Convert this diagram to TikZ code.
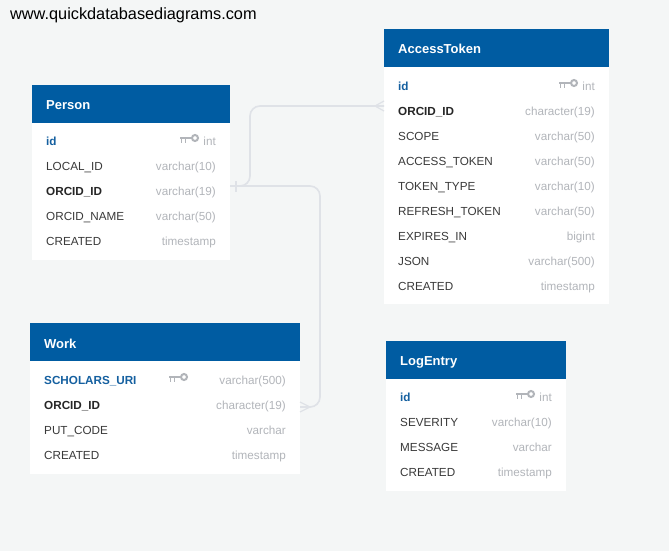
\documentclass[tikz,border=0pt]{standalone}
\usepackage{fontspec}
\setmainfont{Liberation Sans}
\usepackage{xcolor}
\definecolor{pagebg}{HTML}{F4F6F6}
\definecolor{headblue}{HTML}{005CA2}
\definecolor{keyblue}{HTML}{1560A0}
\definecolor{typegray}{HTML}{B2B5BA}
\definecolor{rowdark}{HTML}{3A3A3A}
\definecolor{linkgray}{HTML}{DFE2E7}
\tikzset{
  tablebody/.style={fill=white,draw=none,anchor=north west,inner sep=0pt,outer sep=0pt},
  tablehead/.style={fill=headblue,draw=none,anchor=north west,inner sep=0pt,outer sep=0pt,minimum height=38pt},
  headtext/.style={anchor=base west,inner sep=0pt,text=white,font=\fontsize{13}{13}\selectfont\bfseries},
  rowtext/.style={anchor=base west,inner sep=0pt,text=rowdark,font=\fontsize{11.7}{12}\selectfont},
  fktext/.style={rowtext,text=black!85,font=\fontsize{11.7}{12}\selectfont\bfseries},
  pktext/.style={rowtext,text=keyblue,font=\fontsize{11.7}{12}\selectfont\bfseries},
  typetext/.style={anchor=base east,inner sep=0pt,text=typegray,font=\fontsize{11.7}{12}\selectfont},
  link/.style={draw=linkgray,line width=1.6pt,rounded corners=10pt},
  foot/.style={draw=linkgray,line width=1.2pt},
  keyicon/.pic={
    \draw[typegray,line width=2pt] (2,-1) circle (3);
    \draw[typegray,line width=2pt] (-1,-1)--(-13,-1);
    \draw[typegray,line width=1.6pt] (-11.5,-1)--(-11.5,3.5) (-7.5,-1)--(-7.5,3.5);
  },
}
\begin{document}
\begin{tikzpicture}[x=1pt,y=-1pt]

\useasboundingbox (0,0) rectangle (669,551);
\fill[pagebg] (0,0) rectangle (669,551);

\node[anchor=base west,inner sep=0pt,font=\fontsize{16.3}{16}\selectfont] (site) at (10,20) {www.quickdatabasediagrams.com};

% Person
\node[tablebody,minimum width=198pt,minimum height=175pt] (person) at (32,85) {};
\node[tablehead,minimum width=198pt] (personhead) at (32,85) {};
\node[headtext] (persontitle) at (46,109) {Person};
\node[pktext] (personid) at (46,145) {id};
\node[typetext] (personidtype) at (216,145) {int};
\pic at (193,139) {keyicon};
\node[rowtext] (personlocal) at (46,170) {LOCAL\_ID};
\node[typetext] (personlocaltype) at (216,170) {varchar(10)};
\node[fktext] (personorcid) at (46,195) {ORCID\_ID};
\node[typetext] (personorcidtype) at (216,195) {varchar(19)};
\node[rowtext] (personname) at (46,220) {ORCID\_NAME};
\node[typetext] (personnametype) at (216,220) {varchar(50)};
\node[rowtext] (personcreated) at (46,245) {CREATED};
\node[typetext] (personcreatedtype) at (216,245) {timestamp};

% AccessToken
\node[tablebody,minimum width=225pt,minimum height=275pt] (token) at (384,29) {};
\node[tablehead,minimum width=225pt] (tokenhead) at (384,29) {};
\node[headtext] (tokentitle) at (398,54) {AccessToken};
\node[pktext] (tokenid) at (398,90) {id};
\node[typetext] (tokenidtype) at (595,90) {int};
\pic at (572,84) {keyicon};
\node[fktext] (tokenorcid) at (398,115) {ORCID\_ID};
\node[typetext] (tokenorcidtype) at (595,115) {character(19)};
\node[rowtext] (tokenscope) at (398,140) {SCOPE};
\node[typetext] (tokenscopetype) at (595,140) {varchar(50)};
\node[rowtext] (tokenaccess) at (398,165) {ACCESS\_TOKEN};
\node[typetext] (tokenaccesstype) at (595,165) {varchar(50)};
\node[rowtext] (tokenkind) at (398,190) {TOKEN\_TYPE};
\node[typetext] (tokenkindtype) at (595,190) {varchar(10)};
\node[rowtext] (tokenrefresh) at (398,215) {REFRESH\_TOKEN};
\node[typetext] (tokenrefreshtype) at (595,215) {varchar(50)};
\node[rowtext] (tokenexpires) at (398,240) {EXPIRES\_IN};
\node[typetext] (tokenexpirestype) at (595,240) {bigint};
\node[rowtext] (tokenjson) at (398,265) {JSON};
\node[typetext] (tokenjsontype) at (595,265) {varchar(500)};
\node[rowtext] (tokencreated) at (398,290) {CREATED};
\node[typetext] (tokencreatedtype) at (595,290) {timestamp};

% Work
\node[tablebody,minimum width=270pt,minimum height=151pt] (work) at (30,323) {};
\node[tablehead,minimum width=270pt] (workhead) at (30,323) {};
\node[headtext] (worktitle) at (44,348) {Work};
\node[pktext] (workuri) at (44,384) {SCHOLARS\_URI};
\node[typetext] (workuritype) at (286,384) {varchar(500)};
\pic at (182,378) {keyicon};
\node[fktext] (workorcid) at (44,409) {ORCID\_ID};
\node[typetext] (workorcidtype) at (286,409) {character(19)};
\node[rowtext] (workput) at (44,434) {PUT\_CODE};
\node[typetext] (workputtype) at (286,434) {varchar};
\node[rowtext] (workcreated) at (44,459) {CREATED};
\node[typetext] (workcreatedtype) at (286,459) {timestamp};

% LogEntry
\node[tablebody,minimum width=180pt,minimum height=150pt] (log) at (386,341) {};
\node[tablehead,minimum width=180pt] (loghead) at (386,341) {};
\node[headtext] (logtitle) at (400,365) {LogEntry};
\node[pktext] (logid) at (400,401) {id};
\node[typetext] (logidtype) at (552,401) {int};
\pic at (529,395) {keyicon};
\node[rowtext] (logseverity) at (400,426) {SEVERITY};
\node[typetext] (logseveritytype) at (552,426) {varchar(10)};
\node[rowtext] (logmessage) at (400,451) {MESSAGE};
\node[typetext] (logmessagetype) at (552,451) {varchar};
\node[rowtext] (logcreated) at (400,476) {CREATED};
\node[typetext] (logcreatedtype) at (552,476) {timestamp};

% links
\coordinate (personlink) at (230,186);
\coordinate (tokenlink) at (384,106);
\coordinate (worklink) at (300,407);

\draw[link] (personlink) -- (250,186) -- (250,106) -- (tokenlink);
\draw[link] (personlink) -- (320,186) -- (320,407) -- (worklink);

\draw[foot] (236,181) -- (236,192);
\draw[foot] (tokenlink)+(0,-5) -- (375,106) -- +(9,5);
\draw[foot] (worklink)+(0,-5) -- (310,407) -- +(-10,5);

\end{tikzpicture}
\end{document}
